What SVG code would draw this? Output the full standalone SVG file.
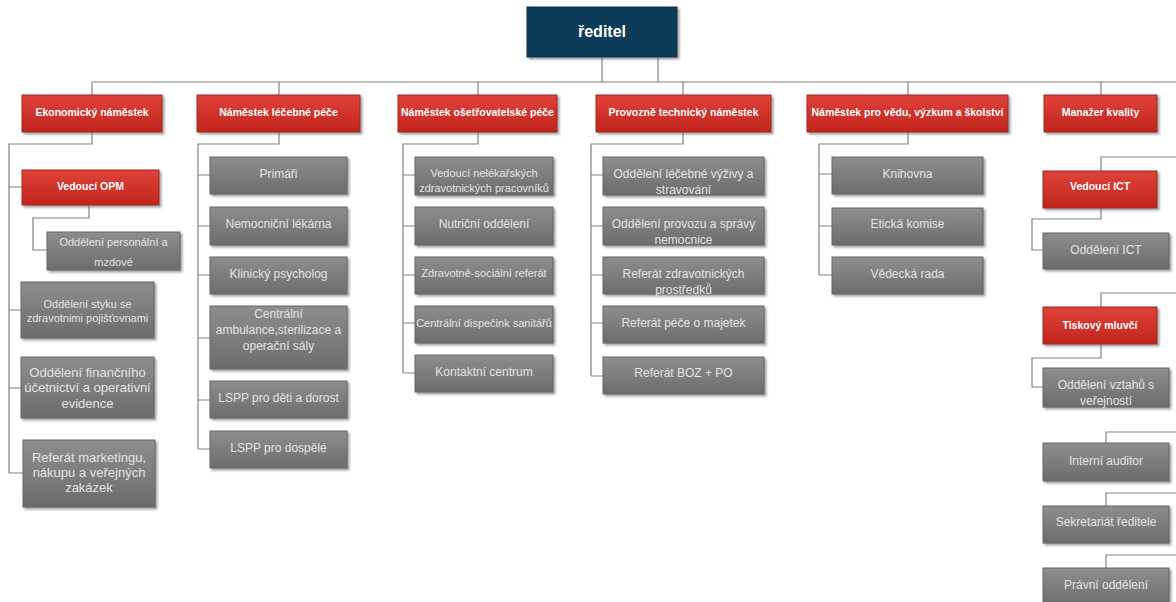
<svg xmlns="http://www.w3.org/2000/svg" width="1176" height="602" viewBox="0 0 1176 602">
<defs>
<linearGradient id="gr" x1="0" y1="0" x2="0" y2="1"><stop offset="0" stop-color="#e0423a"/><stop offset="1" stop-color="#c0251d"/></linearGradient>
<linearGradient id="gg" x1="0" y1="0" x2="0" y2="1"><stop offset="0" stop-color="#8e8e8e"/><stop offset="1" stop-color="#6c6c6c"/></linearGradient>
<filter id="sh" x="-10%" y="-10%" width="130%" height="140%"><feDropShadow dx="2" dy="2" stdDeviation="1" flood-color="#666" flood-opacity="0.6"/></filter>
</defs>
<style>
.r{fill:url(#gr);stroke:#9c2a22;stroke-width:1;filter:url(#sh)}
.g{fill:url(#gg);stroke:#666;stroke-width:1;filter:url(#sh)}
.n{fill:#0c3b58;stroke:#0a2f47;stroke-width:1;filter:url(#sh)}
.rt{font-family:"Liberation Sans",Arial,sans-serif;font-weight:bold;font-size:10.5px;fill:#fff;text-anchor:middle;dominant-baseline:central}
.gt{font-family:"Liberation Sans",Arial,sans-serif;font-size:12px;fill:#e4e4e4;text-anchor:middle;dominant-baseline:central}
.s11{font-size:11px}
.s13{font-size:13px}
.nt{font-family:"Liberation Sans",Arial,sans-serif;font-weight:bold;font-size:16px;fill:#fff;text-anchor:middle;dominant-baseline:central}
.c{fill:none;stroke:#808080;stroke-width:1.2}
</style>
<rect width="1176" height="602" fill="#fff"/>
<g id="connectors" class="c">
<path d="M602,57V82M658,57V82M92,82H1176"/>
<path d="M92,82V95M279,82V95M478,82V95M683,82V95M908,82V95M1101,82V95"/>
<path d="M92,132V144H9V473M9,187H22M9,310H21M9,388H21M9,473H23"/>
<path d="M89,205V218H33V250H47"/>
<path d="M279,132V144H198V449M198,175H210M198,226H210M198,275H210M198,338H210M198,400H210M198,449H210"/>
<path d="M478,132V144H403V373M403,175H415M403,226H415M403,275H415M403,323H415M403,373H415"/>
<path d="M683,132V144H591V376M591,175H603M591,226H603M591,275H603M591,323H603M591,376H603"/>
<path d="M908,132V144H819V275M819,174H832M819,226H832M819,275H832"/>
<path d="M1101,171V157H1176M1101,208V219H1032V250H1043"/>
<path d="M1101,307V293H1176M1101,344V358H1032V387H1043"/>
<path d="M1106,443V432H1176M1106,506V493H1176M1106,568V555H1176"/>
</g>
<g id="reditel"><rect class="n" x="527" y="7" width="150" height="50"/><text class="nt" x="602" y="31">ředitel</text></g>
<g id="ekon"><rect class="r" x="22" y="95" width="140" height="37"/><text class="rt" x="92" y="112">Ekonomický náměstek</text></g>
<g id="lec"><rect class="r" x="197" y="95" width="163" height="37"/><text class="rt" x="278.5" y="112">Náměstek léčebné péče</text></g>
<g id="oset"><rect class="r" x="398" y="95" width="159" height="37"/><text class="rt" x="477.5" y="112">Náměstek ošetřovatelské péče</text></g>
<g id="prov"><rect class="r" x="596" y="95" width="175" height="37"/><text class="rt" x="683.5" y="112">Provozně technický náměstek</text></g>
<g id="veda"><rect class="r" x="807" y="95" width="201" height="37"/><text class="rt" x="907.5" y="112">Náměstek pro vědu, výzkum a školství</text></g>
<g id="kval"><rect class="r" x="1044" y="95" width="113" height="37"/><text class="rt" x="1100.5" y="112">Manažer kvality</text></g>
<g id="opm"><rect class="r" x="22" y="170" width="137" height="35"/><text class="rt" x="90.5" y="186">Vedoucí OPM</text></g>
<g id="personal"><rect class="g" x="47" y="232" width="133" height="38"/><text class="gt s11" x="113.5" y="242">Oddělení personální a</text><text class="gt s11" x="113.5" y="262">mzdové</text></g>
<g id="styku"><rect class="g" x="21" y="282" width="133" height="56"/><text class="gt s11" x="87.5" y="304">Oddělení styku se</text><text class="gt s11" x="87.5" y="318">zdravotnimi pojišťovnami</text></g>
<g id="financ"><rect class="g" x="21" y="357" width="133" height="61"/><text class="gt s13" x="87.5" y="372">Oddělení finančního</text><text class="gt s13" x="87.5" y="387">účetnictví a operativní</text><text class="gt s13" x="87.5" y="403">evidence</text></g>
<g id="marketing"><rect class="g" x="23" y="440" width="132" height="67"/><text class="gt s13" x="89" y="457">Referát marketingu,</text><text class="gt s13" x="89" y="472">nákupu a veřejných</text><text class="gt s13" x="89" y="487">zakázek</text></g>
<g id="primari"><rect class="g" x="210" y="157" width="137" height="37"/><text class="gt" x="278.5" y="174">Primáři</text></g>
<g id="lekarna"><rect class="g" x="210" y="207" width="137" height="38"/><text class="gt" x="278.5" y="224">Nemocniční lékárna</text></g>
<g id="psycholog"><rect class="g" x="210" y="257" width="137" height="37"/><text class="gt" x="278.5" y="274">Klinický psycholog</text></g>
<g id="ambulance"><rect class="g" x="210" y="306" width="137" height="63"/><text class="gt" x="278.5" y="314">Centrální</text><text class="gt" x="278.5" y="330">ambulance,sterilizace a</text><text class="gt" x="278.5" y="346">operační sály</text></g>
<g id="lspp-deti"><rect class="g" x="210" y="381" width="137" height="37"/><text class="gt" x="278.5" y="398">LSPP pro děti a dorost</text></g>
<g id="lspp-dosp"><rect class="g" x="210" y="431" width="137" height="37"/><text class="gt" x="278.5" y="448">LSPP pro dospělé</text></g>
<g id="nelekari"><rect class="g" x="415" y="157" width="138" height="38"/><text class="gt s11" x="484" y="173">Vedoucí nelékařských</text><text class="gt s11" x="484" y="188">zdravotnických pracovníků</text></g>
<g id="nutricni"><rect class="g" x="415" y="207" width="138" height="38"/><text class="gt" x="484" y="224">Nutriční oddělení</text></g>
<g id="socialni"><rect class="g" x="415" y="257" width="138" height="37"/><text class="gt s11" x="484" y="273">Zdravotně-sociální referát</text></g>
<g id="dispecink"><rect class="g" x="415" y="306" width="138" height="37"/><text class="gt s11" x="484" y="323">Centrální dispečink sanitářů</text></g>
<g id="kontakt"><rect class="g" x="415" y="355" width="138" height="37"/><text class="gt" x="484" y="372">Kontaktní centrum</text></g>
<g id="vyziva"><rect class="g" x="603" y="157" width="161" height="38"/><text class="gt" x="683.5" y="174">Oddělení léčebné výživy a</text><text class="gt" x="683.5" y="190">stravování</text></g>
<g id="provoz"><rect class="g" x="603" y="207" width="161" height="38"/><text class="gt" x="683.5" y="224">Oddělení provozu a správy</text><text class="gt" x="683.5" y="240">nemocnice</text></g>
<g id="prostredky"><rect class="g" x="603" y="257" width="161" height="37"/><text class="gt" x="683.5" y="274">Referát zdravotnických</text><text class="gt" x="683.5" y="290">prostředků</text></g>
<g id="majetek"><rect class="g" x="603" y="306" width="161" height="37"/><text class="gt" x="683.5" y="323">Referát péče o majetek</text></g>
<g id="boz"><rect class="g" x="603" y="357" width="161" height="37"/><text class="gt" x="683.5" y="373">Referát BOZ + PO</text></g>
<g id="knihovna"><rect class="g" x="832" y="157" width="151" height="37"/><text class="gt" x="907.5" y="174">Knihovna</text></g>
<g id="eticka"><rect class="g" x="832" y="208" width="151" height="37"/><text class="gt" x="907.5" y="224">Etická komise</text></g>
<g id="vedecka"><rect class="g" x="832" y="257" width="151" height="37"/><text class="gt" x="907.5" y="274">Vědecká rada</text></g>
<g id="ved-ict"><rect class="r" x="1043" y="171" width="114" height="37"/><text class="rt" x="1100" y="186">Vedoucí ICT</text></g>
<g id="odd-ict"><rect class="g" x="1043" y="233" width="126" height="36"/><text class="gt" x="1106" y="250">Oddělení ICT</text></g>
<g id="tiskovy"><rect class="r" x="1043" y="307" width="114" height="37"/><text class="rt" x="1100" y="325">Tiskový mluvčí</text></g>
<g id="vztahy"><rect class="g" x="1043" y="368" width="126" height="39"/><text class="gt" x="1106" y="385">Oddělení vztahů s</text><text class="gt" x="1106" y="401">veřejností</text></g>
<g id="auditor"><rect class="g" x="1043" y="443" width="126" height="38"/><text class="gt" x="1106" y="461">Interní auditor</text></g>
<g id="sekretariat"><rect class="g" x="1043" y="506" width="126" height="37"/><text class="gt" x="1106" y="522">Sekretariát ředitele</text></g>
<g id="pravni"><rect class="g" x="1043" y="568" width="126" height="38"/><text class="gt" x="1106" y="585">Právní oddělení</text></g>
</svg>
